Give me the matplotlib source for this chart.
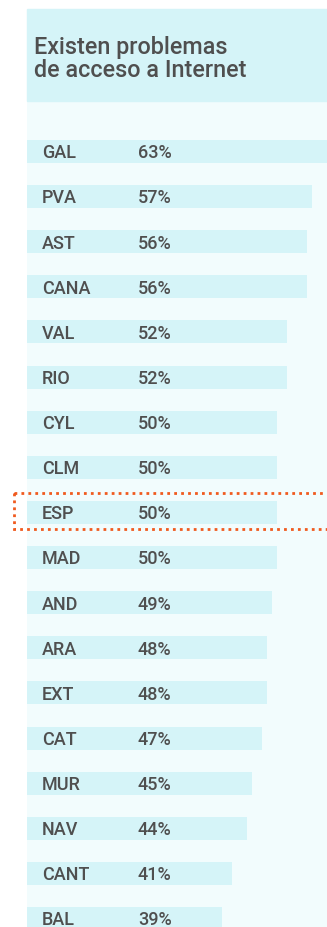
import matplotlib
matplotlib.use("Agg")
import matplotlib.pyplot as plt
from matplotlib.patches import Rectangle

# share of households reporting internet access problems, by region
regiones = ["GAL", "PVA", "AST", "CANA", "VAL", "RIO", "CYL", "CLM", "ESP",
            "MAD", "AND", "ARA", "EXT", "CAT", "MUR", "NAV", "CANT", "BAL"]
valores = [63, 57, 56, 56, 52, 52, 50, 50, 50, 50, 49, 48, 48, 47, 45, 44, 41, 39]
titulo = "Existen problemas\nde acceso a Internet"
destacado = "ESP"

W, H = 327, 927
bar_col = "#d5f4f8"
bg_col = "#f2fcfd"
txt_col = "#4f4f4f"
plt.rcParams["font.family"] = ["Roboto", "DejaVu Sans"]

fig = plt.figure(figsize=(W / 100, H / 100), dpi=100)

# header band
fig.patches.append(Rectangle((27 / W, 1 - 101 / H), 300 / W, 92 / H,
                             transform=fig.transFigure, color=bar_col, zorder=0))
fig.text(34 / W, 1 - 36 / H, titulo, ha="left", va="top", fontsize=16.8,
         color=txt_col, linespacing=0.98, fontweight="medium")

# bar panel
top_px, bot_px = 101, H
ax = fig.add_axes([27 / W, 0, 300 / W, (bot_px - top_px) / H])
ax.set_facecolor(bg_col)
step, c0 = 45.125, 151.5
ax.set_ylim((bot_px - c0) / step, (top_px - c0) / step)
ax.set_xlim(0, 60)
for s in ax.spines.values():
    s.set_visible(False)
ax.set_xticks([])
ax.set_yticks([])

pos = list(range(len(regiones)))
ax.barh(pos, valores, height=23 / step, color=bar_col, left=0)
for i, (r, v) in enumerate(zip(regiones, valores)):
    ax.text(3, i + 0.04, r, ha="left", va="center", fontsize=13,
            color=txt_col, fontweight="medium")
    ax.text(22.2, i + 0.04, f"{v}%", ha="left", va="center", fontsize=13,
            color=txt_col, fontweight="medium")

# dotted frame around the national average
k = regiones.index(destacado)
ax.add_patch(Rectangle((-2.6, k - 0.43), 70, 0.79, fill=False,
                       edgecolor="#f05a1e", linestyle=(0, (1, 1.5)),
                       linewidth=2, clip_on=False, zorder=5))

fig.savefig("out.png", dpi=100)
